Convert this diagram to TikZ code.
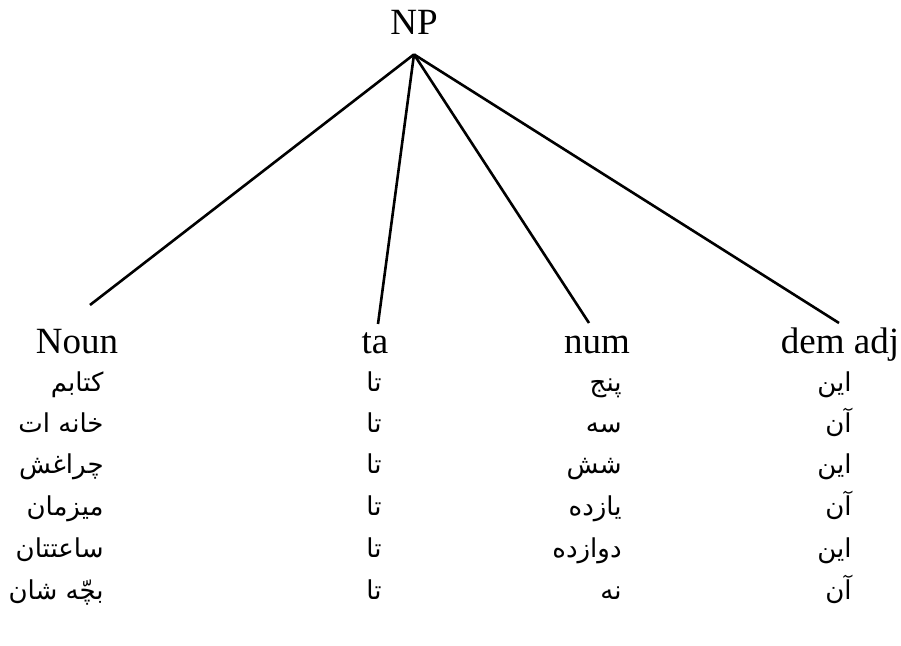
\documentclass[tikz,border=0pt]{standalone}
\usepackage{fontspec}
\setmainfont{Liberation Serif}
\newfontfamily\arabicfont[Script=Arabic]{DejaVu Sans}
\TeXXeTstate=1
\newcommand{\fatext}[1]{{\arabicfont\beginR #1\endR}}
\tikzset{
  cat/.style={inner sep=0pt, anchor=base, font=\fontsize{18.5}{20}\selectfont},
  word/.style={inner sep=0pt, anchor=base east, font=\fontsize{13}{15}\selectfont},
  branch/.style={line width=1.3pt},
}

\begin{document}
\begin{tikzpicture}[x=0.5pt, y=-0.5pt]
\useasboundingbox (0,0) rectangle (901,646);
% categories
\node[cat, inner ysep=9.5pt] (np) at (414,35) {NP};
\node[cat] (noun) at (77,354) {Noun};
\node[cat] (ta) at (375,354) {ta};
\node[cat] (num) at (597,354) {num};
\node[cat] (dem) at (840,354) {dem adj};
\coordinate (nounend) at (90,305);
\coordinate (taend) at (378,324);
\coordinate (numend) at (589,323);
\coordinate (demend) at (839,323);
\draw[branch] (np.south) -- (nounend);
\draw[branch] (np.south) -- (taend);
\draw[branch] (np.south) -- (numend);
\draw[branch] (np.south) -- (demend);
% words
\node[word] (1&1) at (104,392) {\fatext{کتابم}};
\node[word] (2&1) at (104,433) {\fatext{خانه ات}};
\node[word] (3&1) at (104,474) {\fatext{چراغش}};
\node[word] (4&1) at (104,516) {\fatext{میزمان}};
\node[word] (5&1) at (104,558) {\fatext{ساعتتان}};
\node[word] (6&1) at (104,600) {\fatext{بچّه شان}};
\node[word] (1&2) at (382,392) {\fatext{تا}};
\node[word] (2&2) at (382,433) {\fatext{تا}};
\node[word] (3&2) at (382,474) {\fatext{تا}};
\node[word] (4&2) at (382,516) {\fatext{تا}};
\node[word] (5&2) at (382,558) {\fatext{تا}};
\node[word] (6&2) at (382,600) {\fatext{تا}};
\node[word] (1&3) at (622,392) {\fatext{پنج}};
\node[word] (2&3) at (622,433) {\fatext{سه}};
\node[word] (3&3) at (622,474) {\fatext{شش}};
\node[word] (4&3) at (622,516) {\fatext{یازده}};
\node[word] (5&3) at (622,558) {\fatext{دوازده}};
\node[word] (6&3) at (622,600) {\fatext{نه}};
\node[word] (1&4) at (852,392) {\fatext{این}};
\node[word] (2&4) at (852,433) {\fatext{آن}};
\node[word] (3&4) at (852,474) {\fatext{این}};
\node[word] (4&4) at (852,516) {\fatext{آن}};
\node[word] (5&4) at (852,558) {\fatext{این}};
\node[word] (6&4) at (852,600) {\fatext{آن}};
\end{tikzpicture}
\end{document}
